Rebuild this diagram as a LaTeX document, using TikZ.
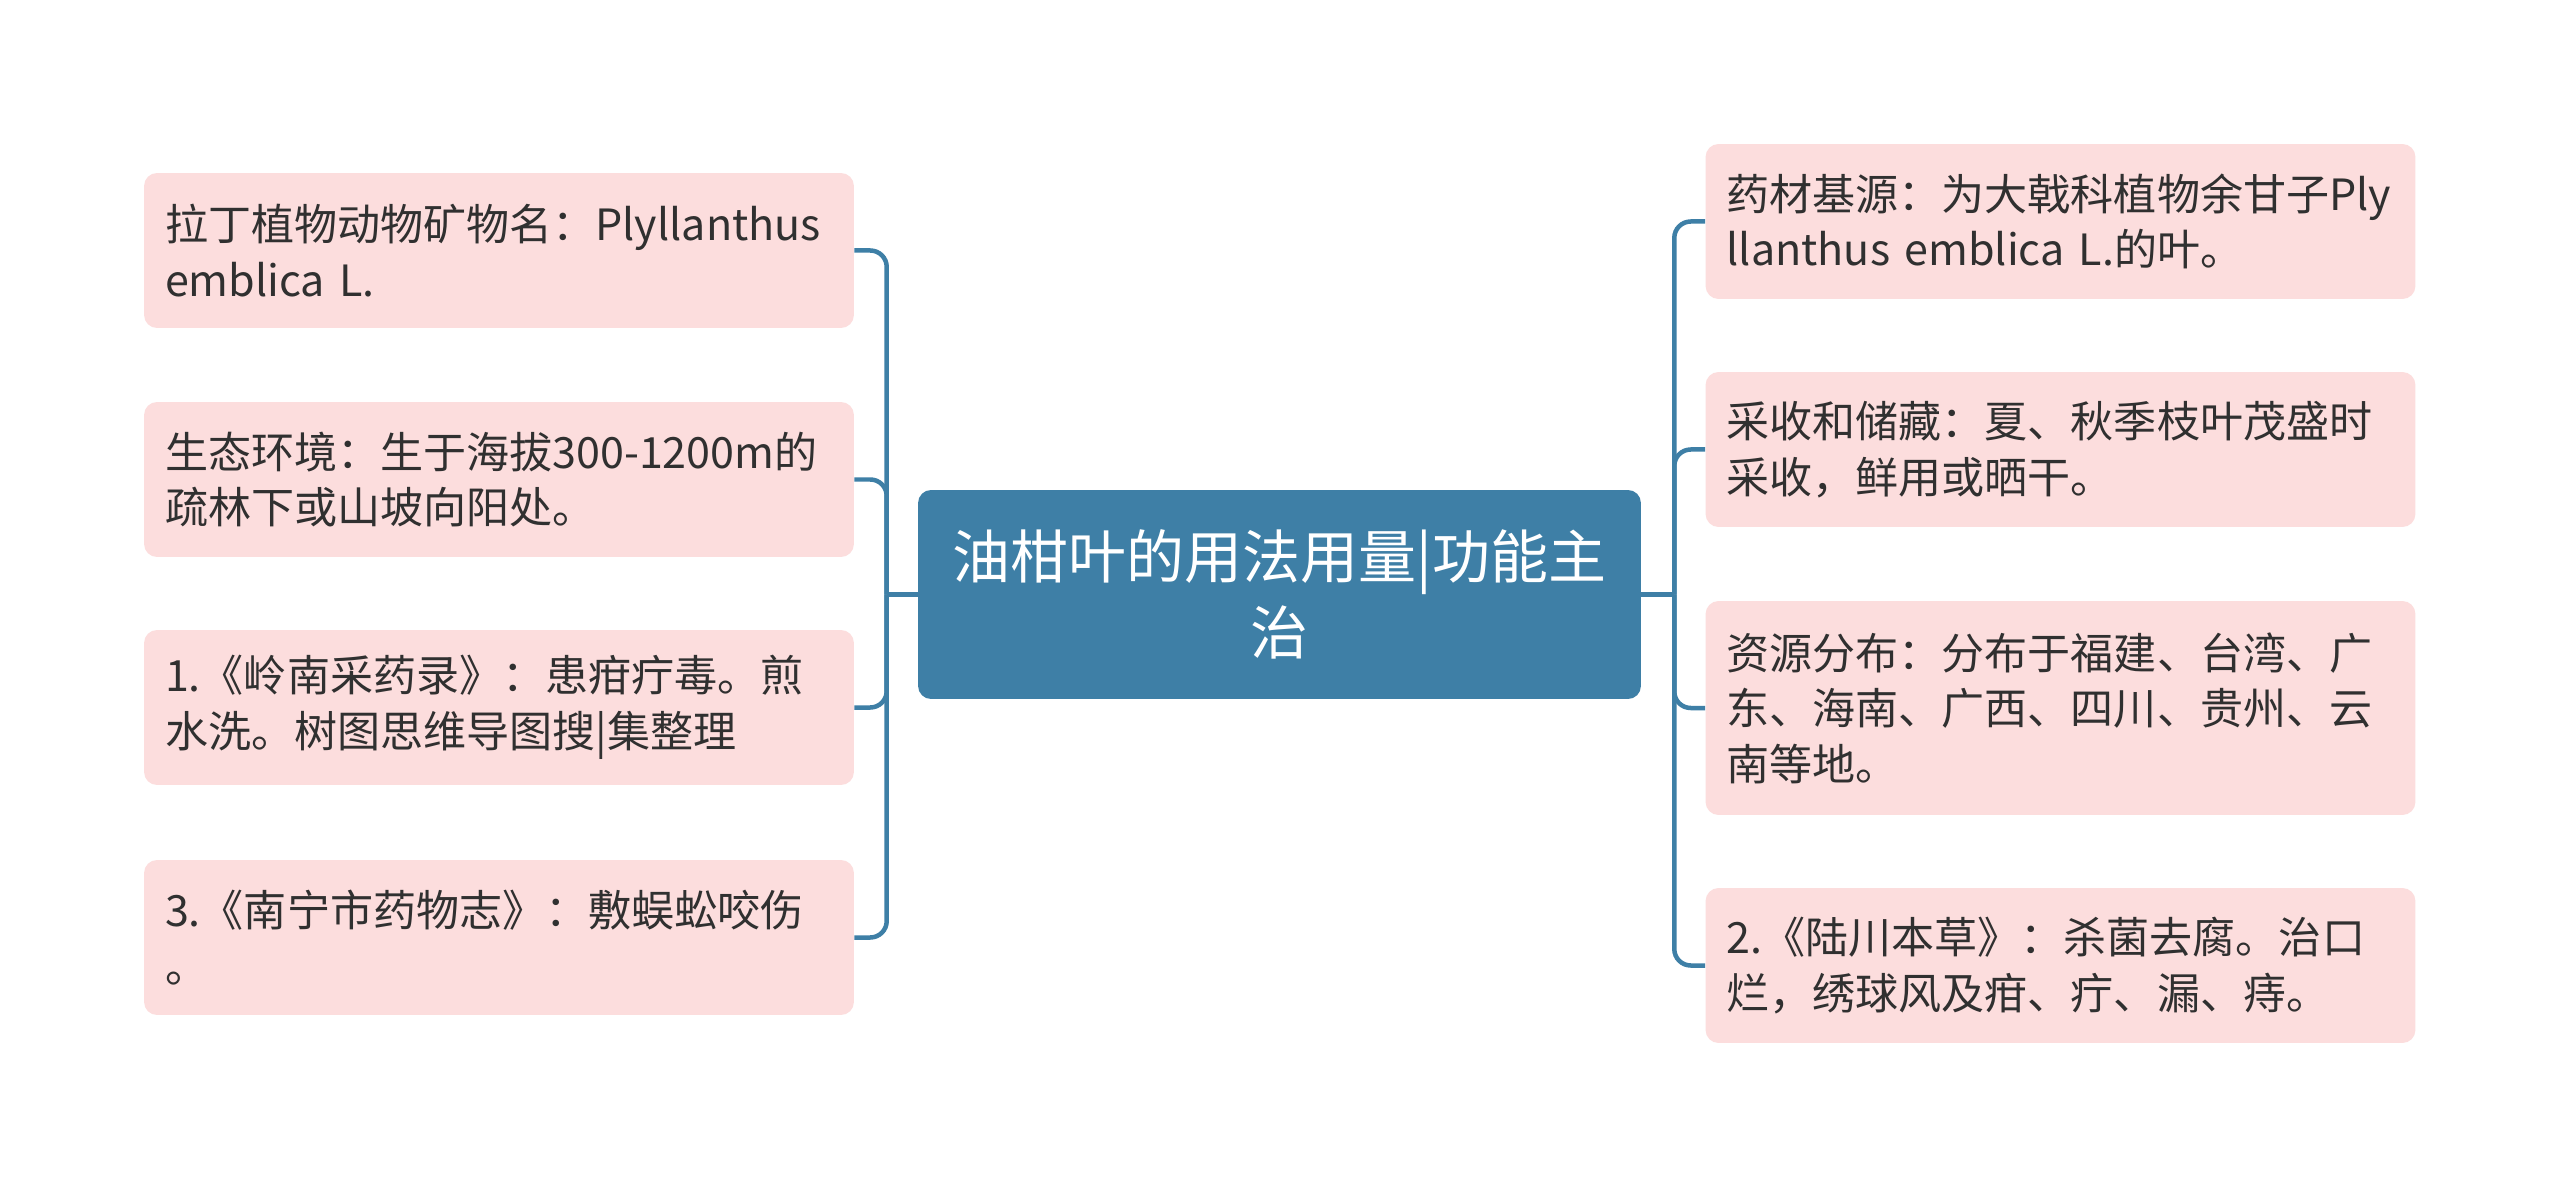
\documentclass[tikz,border=0pt]{standalone}
\usepackage{fontspec}
\setmainfont{Noto Sans CJK SC}
\usepackage{tikz}
\usetikzlibrary{positioning,calc}
\definecolor{topicblue}{RGB}{62,127,166}
\definecolor{leafpink}{RGB}{252,221,221}
\definecolor{leaftext}{RGB}{48,48,48}

\begin{document}
\begin{tikzpicture}[
  x=0.02cm, y=-0.02cm,
  topic/.style={fill=topicblue, rounded corners=0.26cm, text=white, align=center,
                font=\fontsize{33}{43.6}\selectfont, text width=13.5cm,
                minimum width=14.46cm, minimum height=4.18cm, inner sep=0pt},
  leaf/.style={fill=leafpink, rounded corners=0.26cm, text=leaftext, align=left,
               font=\fontsize{24.5}{31.6}\selectfont, text width=13.36cm,
               inner xsep=0.42cm, inner ysep=0pt, minimum height=3.1cm},
  link/.style={draw=topicblue, line width=0.09cm, rounded corners=0.33cm},
]
  \fill[white] (0,0) rectangle (2560,1189);
  \useasboundingbox (0,0) rectangle (2560,1189);

  \node[topic] (main) at (1279.5,594.5) {油柑叶的用法用量|功能主\\治};

  % left side
  \node[leaf] (l1) at (499,250.5) {拉丁植物动物矿物名：Plyllanthus\\emblica L.};
  \node[leaf] (l2) at (499,479.5) {生态环境：生于海拔300-1200m的\\疏林下或山坡向阳处。};
  \node[leaf] (l3) at (499,707.5) {1.《岭南采药录》：患疳疔毒。煎\\水洗。树图思维导图搜|集整理};
  \node[leaf] (l4) at (499,937.5) {3.《南宁市药物志》：敷蜈蚣咬伤\\。};

  % right side
  \node[leaf] (r1) at (2060.5,221.5) {药材基源：为大戟科植物余甘子Ply\\llanthus emblica L.的叶。};
  \node[leaf] (r2) at (2060.5,449.5) {采收和储藏：夏、秋季枝叶茂盛时\\采收，鲜用或晒干。};
  \node[leaf, minimum height=4.28cm] (r3) at (2060.5,708) {资源分布：分布于福建、台湾、广\\东、海南、广西、四川、贵州、云\\南等地。};
  \node[leaf] (r4) at (2060.5,965.5) {2.《陆川本草》：杀菌去腐。治口\\烂，绣球风及疳、疔、漏、痔。};

  \coordinate (lj) at ([xshift=-0.62cm]main.west);
  \coordinate (rj) at ([xshift=0.66cm]main.east);

  \draw[link] (main.west) -- (lj);
  \draw[link] (main.east) -- (rj);
  \foreach \n in {l1,l2,l3,l4}
    \draw[link] (lj) |- (\n.east);
  \foreach \n in {r1,r2,r3,r4}
    \draw[link] (rj) |- (\n.west);
\end{tikzpicture}
\end{document}
